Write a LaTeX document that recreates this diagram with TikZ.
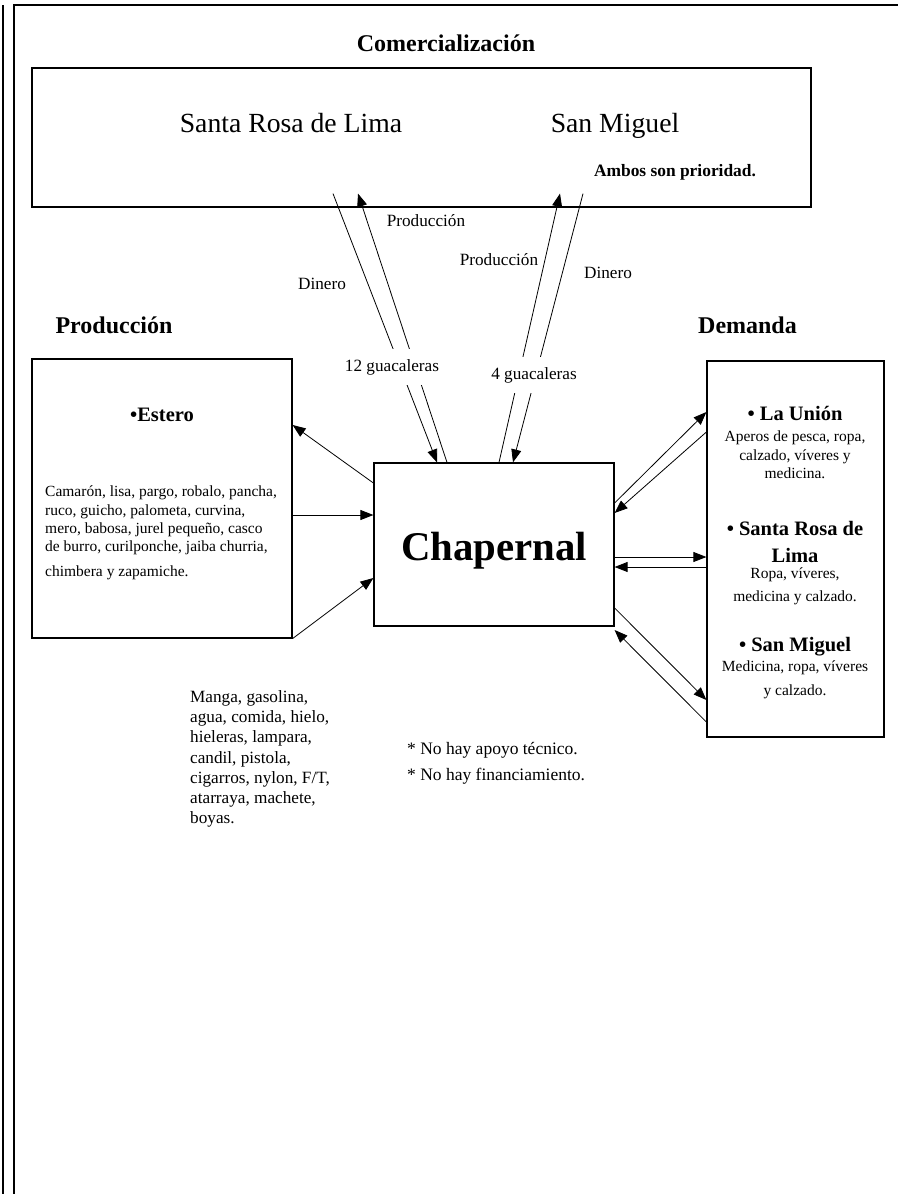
\documentclass[tikz,border=0pt]{standalone}
\usepackage{fontspec}
\setmainfont{Liberation Serif}
\usetikzlibrary{arrows.meta,positioning,calc}
\newcommand{\fsz}[2]{\fontsize{#1}{#2}\selectfont}
\tikzset{
  mapbox/.style={rectangle, draw=black, line width=1.2pt, inner sep=0pt},
  maptitle/.style={font=\bfseries\fsz{24}{28}, inner sep=0pt},
  mapcity/.style={font=\fsz{27.7}{32}, inner sep=0pt, anchor=base},
  mapitem/.style={font=\bfseries\fsz{20.5}{27}, align=center, inner sep=0pt},
  maptext/.style={font=\fsz{15.5}{18.3}, align=center, inner sep=0pt},
  maplabel/.style={font=\fsz{17.2}{20.3}, inner sep=0pt},
  maparrow/.style={-{Triangle[length=13pt,width=10pt]}, line width=0.8pt},
  mapframe/.style={line width=2pt}
}
\begin{document}
\begin{tikzpicture}[x=1pt,y=-1pt]
\useasboundingbox (0,0) rectangle (898,1194);
% marco de la pagina
\draw[mapframe] (3,5) -- (3,1194);
\draw[mapframe] (14,1194) -- (14,5) -- (898,5);
% cajas
\node[mapbox, minimum width=779pt, minimum height=139pt] (comer) at (421.5,137.5) {};
\node[mapbox, minimum width=260pt, minimum height=279pt] (estero) at (162,498.5) {};
\node[mapbox, minimum width=240pt, minimum height=163pt] (chap) at (494,544.5) {};
\node[mapbox, minimum width=177pt, minimum height=376pt] (dem) at (795.5,549) {};
\node[font=\bfseries\fsz{40.8}{46}, inner sep=0pt, anchor=base] (chaptxt) at (494,560) {Chapernal};
% titulos
\node[maptitle] (comtitle) at (446,43) {Comercialización};
\node[maptitle] (prodtitle) at (114,325) {Producción};
\node[maptitle] (demtitle) at (747.5,325) {Demanda};
% comercializacion
\node[mapcity] (srl) at (291,132.6) {Santa Rosa de Lima};
\node[mapcity] (smig) at (615,132.6) {San Miguel};
\node[font=\bfseries\fsz{17.4}{20}, inner sep=0pt] (ambos) at (675,172) {Ambos son prioridad.};
% produccion
\node[mapitem] (esttitle) at (162,415) {•Estero};
\node[maptext, align=left, anchor=north west] (especies) at (45,486) {Camarón, lisa, pargo, robalo, pancha,\\ruco, guicho, palometa, curvina,\\mero, babosa, jurel pequeño, casco\\de burro, curilponche, jaiba churria,\\[6pt]chimbera y zapamiche.};
% demanda
\node[mapitem] (union) at (795,413) {• La Unión};
\node[maptext] (uniontxt) at (795,455) {Aperos de pesca, ropa,\\calzado, víveres y\\medicina.};
\node[mapitem] (rosa) at (795,541.5) {• Santa Rosa de\\Lima};
\node[maptext] (rosatxt) at (795,586.5) {Ropa, víveres,\\[4.5pt]medicina y calzado.};
\node[mapitem] (miguel) at (795,647) {• San Miguel};
\node[maptext] (migueltxt) at (795,680) {Medicina, ropa, víveres\\[5.5pt]y calzado.};
% flujos con comercializacion
\draw[maparrow] ($(comer.south)+(-88.5,-14)$) -- ($(chap.north)+(-57,0)$);
\draw[maparrow] ($(chap.north)+(-47,0)$) -- ($(comer.south)+(-63.5,-14)$);
\draw[maparrow] ($(chap.north)+(5,0)$) -- ($(comer.south)+(138.5,-14)$);
\draw[maparrow] ($(comer.south)+(161.5,-14)$) -- ($(chap.north)+(19,0)$);
\node[maplabel] (prodl) at (426,221) {Producción};
\node[maplabel] (dinl) at (322,284) {Dinero};
\node[maplabel] (prodr) at (499,260) {Producción};
\node[maplabel] (dinr) at (608,273) {Dinero};
\node[maplabel, fill=white, inner xsep=3pt, inner ysep=10pt] (guac12) at (392,367) {12 guacaleras};
\node[maplabel, fill=white, inner xsep=3pt, inner ysep=10pt] (guac4) at (534,375) {4 guacaleras};
% flujos con produccion
\draw[maparrow] ($(chap.west)+(0,-61.5)$) -- ($(estero.east)+(0,-73.5)$);
\draw[maparrow] ($(estero.east)+(0,16.5)$) -- ($(chap.west)+(0,-29.5)$);
\draw[maparrow] (estero.south east) -- ($(chap.west)+(0,33.5)$);
% flujos con demanda
\draw[maparrow] ($(chap.east)+(0,-41.5)$) -- ($(dem.west)+(0,-137)$);
\draw[maparrow] ($(dem.west)+(0,-117)$) -- ($(chap.east)+(0,-31.5)$);
\draw[maparrow] ($(chap.east)+(0,12.5)$) -- ($(dem.west)+(0,8)$);
\draw[maparrow] ($(dem.west)+(0,18)$) -- ($(chap.east)+(0,22.5)$);
\draw[maparrow] ($(chap.east)+(0,63.5)$) -- ($(dem.west)+(0,151)$);
\draw[maparrow] ($(dem.west)+(0,173)$) -- ($(chap.east)+(0,85.5)$);
% insumos y notas
\node[maplabel, align=left, anchor=north west] (insumos) at (190,690) {Manga, gasolina,\\agua, comida, hielo,\\hieleras, lampara,\\candil, pistola,\\cigarros, nylon, F/T,\\atarraya, machete,\\boyas.};
\node[font=\fsz{17.5}{26}, align=left, anchor=north west, inner sep=0pt] (notas) at (407,742) {* No hay apoyo técnico.\\* No hay financiamiento.};
\end{tikzpicture}
\end{document}
